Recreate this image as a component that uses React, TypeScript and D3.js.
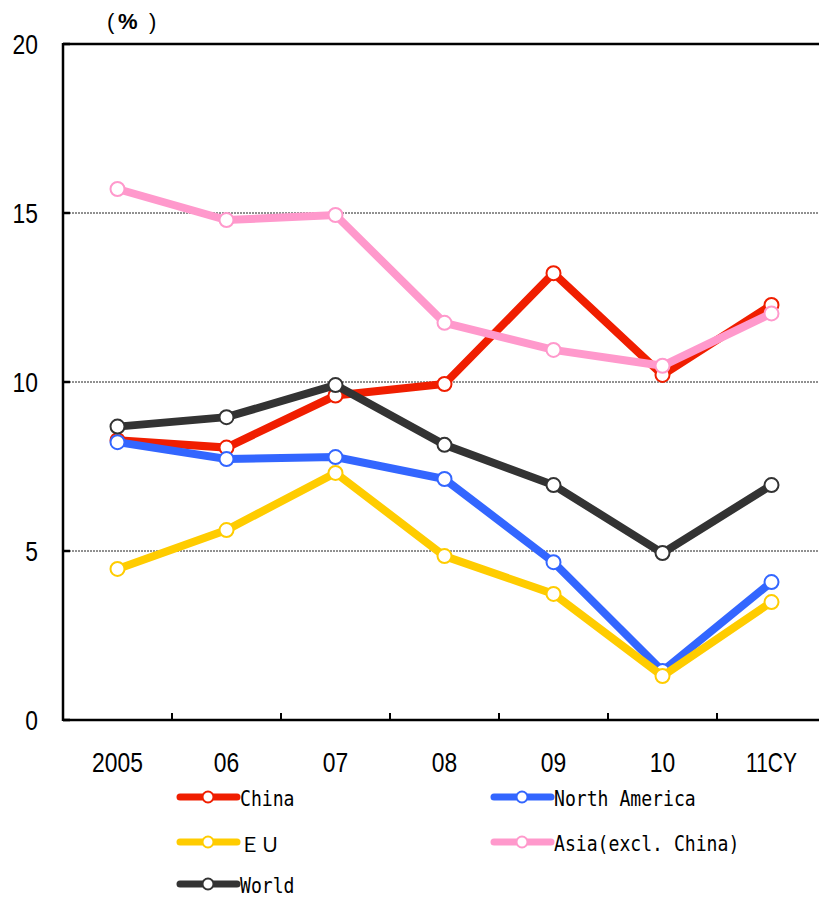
import React from 'react';
import * as d3 from 'd3';

const years = ['2005', '06', '07', '08', '09', '10', '11CY'];
const china = [8.28, 8.06, 9.6, 9.94, 13.22, 10.21, 12.28];
const northAmerica = [8.22, 7.72, 7.78, 7.13, 4.67, 1.45, 4.08];
const eu = [4.47, 5.62, 7.31, 4.85, 3.73, 1.3, 3.49];
const asia = [15.71, 14.79, 14.94, 11.75, 10.95, 10.48, 12.03];
const world = [8.68, 8.96, 9.91, 8.14, 6.95, 4.94, 6.95];
const yTicks = [0, 5, 10, 15, 20];

// drawing order (bottom first)
const series = [
  { name: 'China', values: china, color: '#f01e00' },
  { name: 'North America', values: northAmerica, color: '#3366ff' },
  { name: 'ＥＵ', values: eu, color: '#ffcc00' },
  { name: 'Asia(excl. China)', values: asia, color: '#ff99cc' },
  { name: 'World', values: world, color: '#333333' },
];

const W = 819;
const H = 897;
const m = { left: 63, top: 44, right: 826, bottom: 720 };

const tickFont = '"Liberation Sans Narrow", "Liberation Sans", "Noto Sans", sans-serif';
const legendFont = '"DejaVu Sans Mono", "Liberation Mono", monospace';
const digitW = 12.7;

export default function App() {
  const x = d3.scaleBand<string>().domain(years).range([m.left, m.right]).padding(0);
  const cx = (c: string) => (x(c) ?? 0) + x.bandwidth() / 2;
  const y = d3.scaleLinear().domain([0, 20]).range([m.bottom, m.top]);

  const line = d3.line<number>()
    .x((_, i) => cx(years[i]))
    .y(d => y(d));

  // legend: two columns, row-major
  const legendCols = [180, 494];
  const legendRows = [797, 842, 884];

  return (
    <svg width={W} height={H} style={{ position: 'absolute', left: 0, top: 0, background: '#fff' }}>
      {/* gridlines */}
      {yTicks.filter(t => t > 0 && t < 20).map(t => (
        <line key={t} x1={m.left} x2={W} y1={y(t)} y2={y(t)}
          stroke="#222" strokeWidth={1} strokeDasharray="2,1" />
      ))}

      {/* frame */}
      <line x1={m.left} x2={W} y1={m.top} y2={m.top} stroke="#000" strokeWidth={2.5} />
      <line x1={m.left} x2={W} y1={m.bottom} y2={m.bottom} stroke="#000" strokeWidth={2.5} />
      <line x1={m.left} x2={m.left} y1={m.top - 1} y2={m.bottom + 1} stroke="#000" strokeWidth={2.5} />

      {/* y ticks + labels */}
      {yTicks.map(t => (
        <g key={t}>
          <line x1={m.left} x2={m.left + 7} y1={y(t)} y2={y(t)} stroke="#000" strokeWidth={2.5} />
          <text x={38} y={y(t) + 9.5} textAnchor="end" fontFamily={tickFont} fontSize={27} fill="#000"
            textLength={String(t).length * digitW} lengthAdjust="spacingAndGlyphs">{t}</text>
        </g>
      ))}

      {/* x ticks (band boundaries) + labels */}
      {years.slice(1).map(c => (
        <line key={c} x1={x(c)} x2={x(c)} y1={m.bottom} y2={m.bottom - 7} stroke="#000" strokeWidth={2} />
      ))}
      {years.map(c => (
        <text key={c} x={cx(c)} y={772} textAnchor="middle" fontFamily={tickFont} fontSize={28} fill="#000"
          textLength={c.length * digitW} lengthAdjust="spacingAndGlyphs">{c}</text>
      ))}

      {/* unit label */}
      <text y={29} fontFamily={tickFont} fontSize={22} fill="#000">
        <tspan x={107}>(</tspan>
        <tspan x={118} fontWeight="bold">%</tspan>
        <tspan x={149}>)</tspan>
      </text>

      {/* series */}
      {series.map(s => (
        <g key={s.name}>
          <path d={line(s.values) || ''} fill="none" stroke={s.color} strokeWidth={8} strokeLinejoin="miter" />
          {s.values.map((v, i) => (
            <circle key={i} cx={cx(years[i])} cy={y(v)} r={7} fill="#fff" stroke={s.color} strokeWidth={2} />
          ))}
        </g>
      ))}

      {/* legend */}
      {series.map((s, i) => {
        const lx = legendCols[i % 2];
        const ly = legendRows[Math.floor(i / 2)];
        const isFull = s.name === 'ＥＵ';
        return (
          <g key={s.name}>
            <line x1={lx} x2={lx + 57} y1={ly} y2={ly} stroke={s.color} strokeWidth={7} strokeLinecap="round" />
            <circle cx={lx + 28} cy={ly} r={5.5} fill="#fff" stroke={s.color} strokeWidth={2} />
            {isFull ? (
              <text x={lx + 60} y={ly + 10} fontFamily='"Noto Sans CJK JP", sans-serif' fontSize={20} fill="#000">{s.name}</text>
            ) : (
              <text x={lx + 60} y={ly + 9} fontFamily={legendFont} fontSize={22}
                textLength={s.name.length * 10.9} lengthAdjust="spacingAndGlyphs" fill="#000">{s.name}</text>
            )}
          </g>
        );
      })}
    </svg>
  );
}
